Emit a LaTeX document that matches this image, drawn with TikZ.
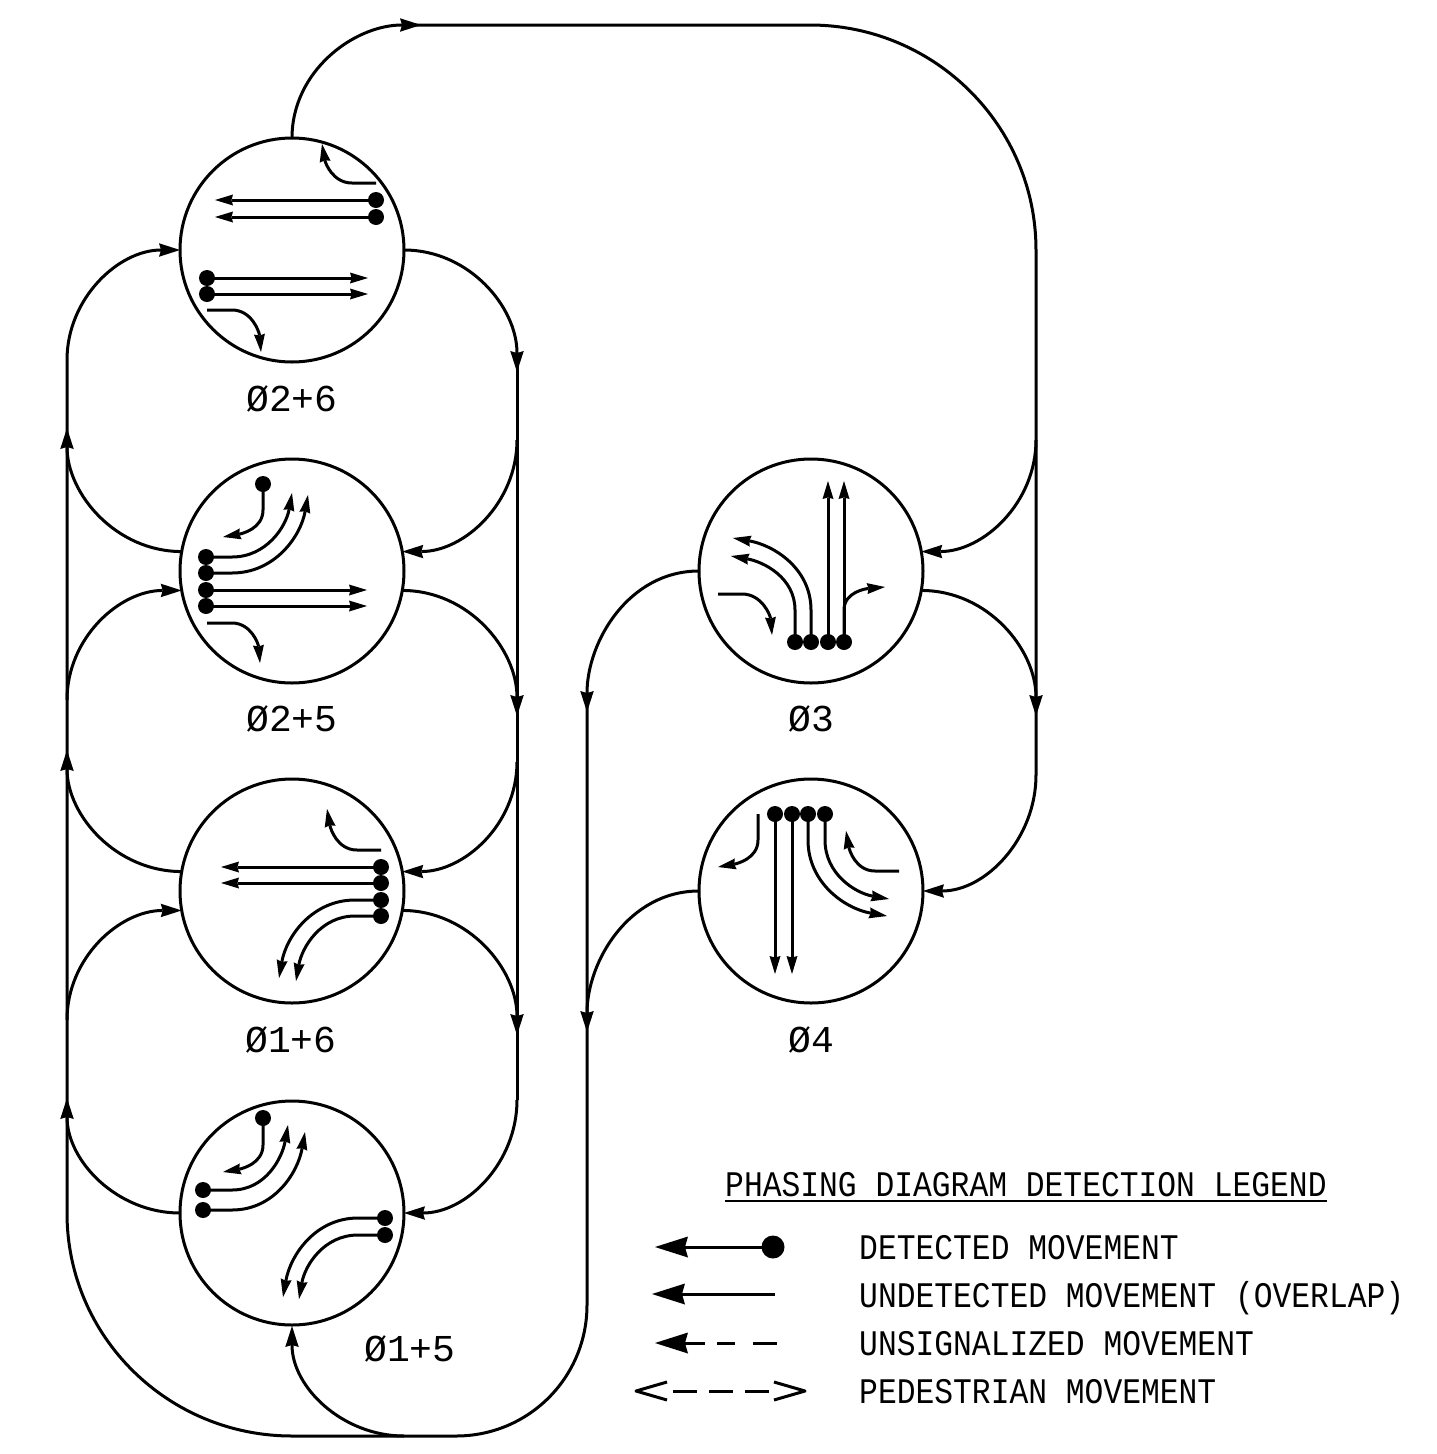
\documentclass[tikz,border=0pt]{standalone}
\usepackage{fontspec}
\usetikzlibrary{arrows.meta}
\newfontfamily\legendfont{Liberation Mono}[FakeStretch=0.87]
\newfontfamily\phasefont{Liberation Mono}
% detected straight movement: name, dot, tip
\newcommand\mvS[3]{\node[dot] (#1) at (#2) {}; \coordinate (#1t) at (#3); \draw[mv] (#1.center) -- (#1t);}
% detected turning movement: name, dot, bend start, out angle, in angle, tip
\newcommand\mvT[6]{\node[dot] (#1) at (#2) {}; \coordinate (#1b) at (#3); \coordinate (#1t) at (#6); \draw[mv] (#1.center) -- (#1b) to[out=#4,in=#5] (#1t);}
% undetected turning movement: name, start, bend start, out angle, in angle, tip
\newcommand\mvU[6]{\coordinate (#1) at (#2); \coordinate (#1b) at (#3); \coordinate (#1t) at (#6); \draw[mv] (#1) -- (#1b) to[out=#4,in=#5] (#1t);}
\tikzset{
  x=1pt,y=1pt,
  phase/.style={circle,draw=black,line width=3pt,minimum size=224pt,inner sep=0pt,outer sep=0pt},
  dot/.style={circle,fill=black,minimum size=16pt,inner sep=0pt,outer sep=0pt},
  bigdot/.style={circle,fill=black,minimum size=23pt,inner sep=0pt,outer sep=0pt},
  conn/.style={line width=3pt,draw=black},
  flow/.style={conn,-{Stealth[length=21pt,width=13.5pt,inset=2pt,line width=0pt]}},
  mv/.style={line width=3pt,draw=black,-{Stealth[length=18pt,width=11pt,inset=1.5pt,line width=0pt]}},
  legtip/.style={line width=3pt,draw=black,-{Stealth[length=33pt,width=21pt,inset=3pt,line width=0pt]}},
  phasetext/.style={anchor=base,inner sep=0pt,font=\phasefont\fontsize{38}{40}\selectfont},
  legtext/.style={anchor=base west,inner sep=0pt,font=\legendfont\fontsize{36}{40}\selectfont},
}
\begin{document}
\begin{tikzpicture}
\useasboundingbox (0,0) rectangle (1437,-1454);
% phases
\node[phase] (c1) at (292,-250) {};
\node[phase] (c2) at (292,-571) {};
\node[phase] (c3) at (292,-891) {};
\node[phase] (c4) at (292,-1213) {};
\node[phase] (c5) at (811,-571) {};
\node[phase] (c6) at (811,-891) {};
% labels
\node[phasetext] (l1) at (292,-411) {Ø2+6};
\node[phasetext] (l2) at (292,-731) {Ø2+5};
\node[phasetext] (l3) at (291,-1052) {Ø1+6};
\node[phasetext] (l4) at (410,-1361) {Ø1+5};
\node[phasetext] (l5) at (811,-731) {Ø3};
\node[phasetext] (l6) at (811,-1052) {Ø4};
% junctions, left bus
\coordinate (La) at (67,-360);
\coordinate (Lb) at (67,-428);
\coordinate (Lc) at (67,-700);
\coordinate (Ld) at (67,-750);
\coordinate (Le) at (67,-1020);
\coordinate (Lf) at (67,-1098);
\coordinate (Lg) at (67,-1213);
% junctions, right bus
\coordinate (Ra) at (517,-372);
\coordinate (Rz) at (517,-360);
\coordinate (Rb) at (517,-440);
\coordinate (Rc) at (517,-716);
\coordinate (Rd) at (517,-762);
\coordinate (Re) at (517,-1035);
\coordinate (Rf) at (517,-1100);
% junctions, far right bus
\coordinate (Fa) at (1036,-250);
\coordinate (Fb) at (1036,-440);
\coordinate (Fc) at (1036,-716);
\coordinate (Fd) at (1036,-775);
% junctions, middle bus
\coordinate (Ma) at (587,-712);
\coordinate (Mz) at (587,-698);
\coordinate (Mb) at (587,-1032);
\coordinate (Mc) at (587,-1305);
% top and bottom
\coordinate (Ta) at (421,-25);
\coordinate (Tz) at (408,-25);
\coordinate (Tb) at (810,-25);
\coordinate (Ba) at (292,-1436);
\coordinate (Bb) at (404,-1436);
\coordinate (Bc) at (456,-1436);
\coordinate (Bd) at (292,-1326);
% top loop
\draw[flow] (c1.north) to[out=90,in=180] (Ta);
\draw[conn] (Tz) -- (Tb) to[out=0,in=90] (Fa) -- (Fd);
% far right bus
\draw[flow] (Fb) to[out=-90,in=0] (c5.10);
\draw[flow] (c5.350) to[out=0,in=90] (Fc);
\draw[flow] (Fd) to[out=-90,in=0] (c6.east);
% middle bus
\draw[flow] (c5.west) to[out=180,in=90] (Ma);
\draw[flow] (c6.west) to[out=180,in=90] (Mb);
\draw[conn] (Mz) -- (Mc) to[out=-90,in=0] (Bc) -- (Ba);
% bottom
\draw[flow] (Bb) to[out=180,in=-90] (Bd);
\draw[conn] (Ba) to[out=180,in=-90] (Lg) -- (La);
% left bus
\draw[flow] (La) to[out=90,in=180] (c1.west);
\draw[flow] (c2.170) to[out=180,in=-90] (Lb);
\draw[flow] (Lc) to[out=90,in=180] (c2.190);
\draw[flow] (c3.170) to[out=180,in=-90] (Ld);
\draw[flow] (Le) to[out=90,in=180] (c3.190);
\draw[flow] (c4.west) to[out=180,in=-90] (Lf);
% right bus
\draw[flow] (c1.east) to[out=0,in=90] (Ra);
\draw[flow] (Rb) to[out=-90,in=0] (c2.10);
\draw[flow] (c2.350) to[out=0,in=90] (Rc);
\draw[flow] (Rd) to[out=-90,in=0] (c3.10);
\draw[flow] (c3.350) to[out=0,in=90] (Re);
\draw[flow] (Rf) to[out=-90,in=0] (c4.east);
\draw[conn] (Rz) -- (Rf);
% phase 2+6
\mvS{a1}{376,-200}{215,-200}
\mvS{a2}{376,-217}{215,-217}
\mvS{a3}{207,-278}{368,-278}
\mvS{a4}{207,-294}{368,-294}
\mvU{a5}{376,-183}{352,-183}{180}{-80}{322,-144}
\mvU{a6}{207,-310}{232,-310}{0}{95}{261,-352}
% phase 2+5
\mvT{b1}{263,-484}{263,-510}{-90}{10}{223,-537}
\mvT{b2}{206,-557}{232,-557}{0}{-100}{292,-493}
\mvT{b3}{206,-573}{232,-573}{0}{-100}{308,-495}
\mvS{b4}{206,-590}{367,-590}
\mvS{b5}{206,-606}{367,-606}
\mvU{b6}{207,-623}{232,-623}{0}{95}{260,-663}
% phase 1+6
\mvS{d1}{381,-867}{221,-867}
\mvS{d2}{381,-883}{221,-883}
\mvT{d3}{381,-900}{355,-900}{180}{80}{279,-978}
\mvT{d4}{381,-916}{355,-916}{180}{80}{296,-981}
\mvU{d5}{381,-850}{357,-850}{180}{-80}{327,-809}
% phase 1+5
\mvT{e1}{263,-1118}{263,-1145}{-90}{10}{223,-1172}
\mvT{e2}{203,-1190}{232,-1190}{0}{-100}{288,-1125}
\mvT{e3}{203,-1210}{232,-1210}{0}{-100}{305,-1132}
\mvT{e4}{385,-1218}{358,-1218}{180}{80}{283,-1297}
\mvT{e5}{385,-1235}{358,-1235}{180}{80}{299,-1299}
% phase 3
\mvS{f1}{844,-642}{844,-481}
\mvS{f2}{828,-642}{828,-481}
\mvT{f3}{811,-642}{811,-610}{90}{-10}{733,-538}
\mvT{f4}{795,-642}{795,-610}{90}{-10}{731,-556}
\coordinate (f5b) at (844,-610);
\coordinate (f5t) at (885,-587);
\draw[mv] (f1.center) -- (f5b) to[out=90,in=185] (f5t);
\mvU{f6}{718,-594}{742,-594}{0}{95}{772,-635}
% phase 4
\mvS{g1}{775,-814}{775,-974}
\mvS{g2}{792,-814}{792,-974}
\mvT{g3}{808,-814}{808,-840}{-90}{170}{887,-916}
\mvT{g4}{825,-814}{825,-840}{-90}{170}{889,-899}
\mvU{g5}{758,-814}{758,-840}{-90}{10}{718,-867}
\mvU{g6}{899,-871}{875,-871}{180}{-80}{846,-831}
% legend
\node[legtext] (t0) at (725,-1196) {PHASING DIAGRAM DETECTION LEGEND};
\draw[line width=2.2pt] (t0.base west |- 0,-1201) -- (t0.base east |- 0,-1201);
\node[legtext] (t1) at (859,-1259) {DETECTED MOVEMENT};
\node[legtext] (t2) at (859,-1307) {UNDETECTED MOVEMENT (OVERLAP)};
\node[legtext] (t3) at (859,-1355) {UNSIGNALIZED MOVEMENT};
\node[legtext] (t4) at (859,-1403) {PEDESTRIAN MOVEMENT};
\node[bigdot] (k1) at (773,-1247) {};
\coordinate (k1t) at (655,-1247);
\draw[legtip] (k1.center) -- (k1t);
\coordinate (k2) at (775,-1294);
\coordinate (k2t) at (652,-1294);
\draw[legtip] (k2) -- (k2t);
\coordinate (k3) at (705,-1343);
\coordinate (k3t) at (655,-1343);
\coordinate (k3a) at (717,-1343);
\coordinate (k3b) at (735,-1343);
\coordinate (k3c) at (753,-1343);
\coordinate (k3d) at (777,-1343);
\draw[legtip] (k3) -- (k3t);
\draw[conn] (k3a) -- (k3b) (k3c) -- (k3d);
\coordinate (k4a) at (673,-1391);
\coordinate (k4b) at (769,-1391);
\draw[conn,dash pattern=on 24pt off 12pt] (k4a) -- (k4b);
\coordinate (k4l) at (636,-1391);
\coordinate (k4r) at (805,-1391);
\draw[conn,line join=round] (667,-1382) -- (k4l) -- (667,-1400);
\draw[conn,line join=round] (774,-1382) -- (k4r) -- (774,-1400);
\end{tikzpicture}
\end{document}
